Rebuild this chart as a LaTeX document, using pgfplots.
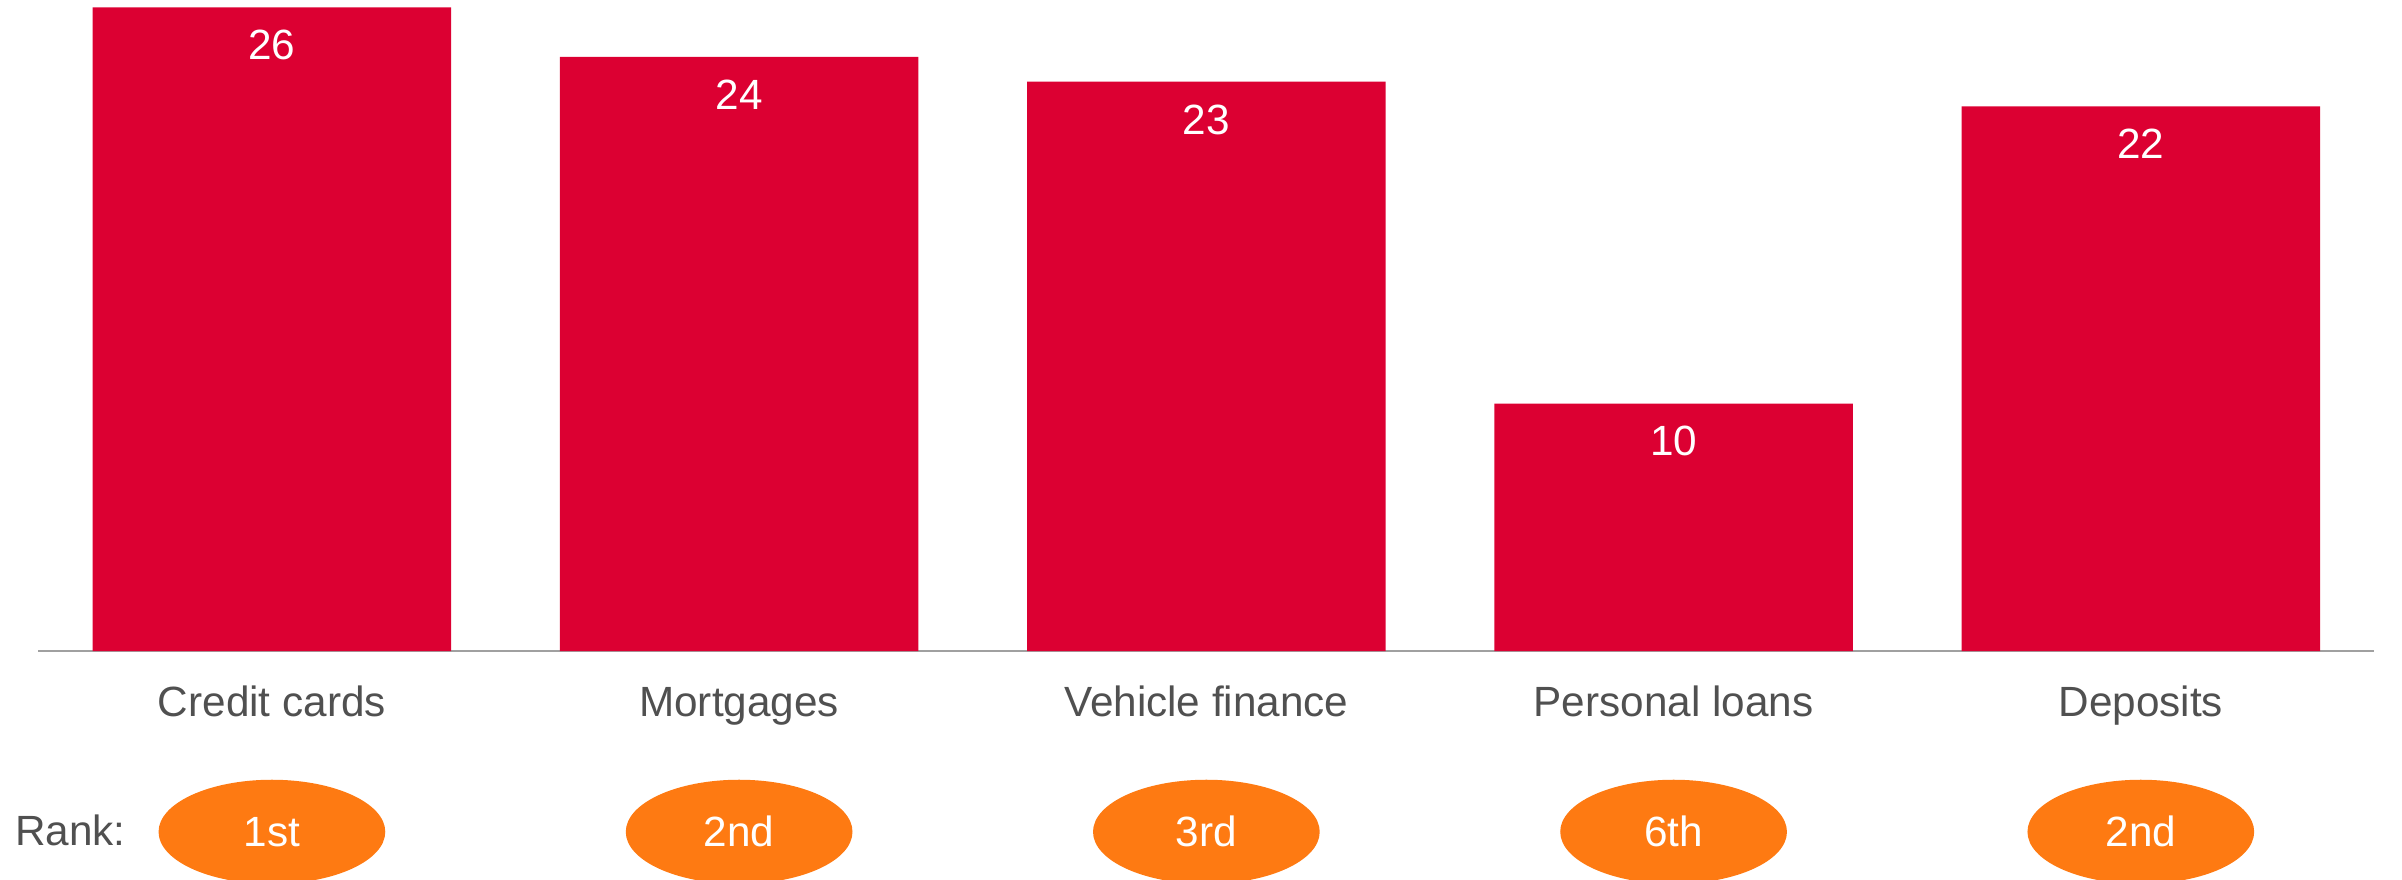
\documentclass[border=0pt]{standalone}
\usepackage{fontspec}
\setmainfont{Liberation Sans}
\usepackage{pgfplots}
\pgfplotsset{compat=1.18}
\usetikzlibrary{shapes.geometric}
\definecolor{barred}{RGB}{220,0,50}
\definecolor{rankorange}{RGB}{254,122,18}
\definecolor{textgray}{RGB}{80,80,80}
\definecolor{axisgray}{RGB}{160,160,160}
\newcommand{\lblfont}{\fontsize{13.8}{16}\selectfont}
\begin{document}
\begin{tikzpicture}
\begin{axis}[
  width=762.5pt, height=212.5pt, scale only axis,
  xmin=-0.5, xmax=4.5, ymin=0, ymax=26.3,
  axis x line=bottom, axis y line=none,
  x axis line style={-, draw=axisgray, line width=0.6pt},
  xtick={0,1,2,3,4},
  xticklabels={Credit cards, Mortgages, Vehicle finance, Personal loans, Deposits},
  major tick length=0pt,
  xticklabel style={anchor=base, yshift=-21.4pt, text=textgray, font=\lblfont},
  ytick=\empty,
  clip=false,
  /pgf/number format/assume math mode=true,
]
\addplot[ybar, fill=barred, draw=none, bar width=117pt,
  nodes near coords,
  nodes near coords align={center},
  every node near coord/.append style={anchor=base, yshift=-17.1pt, text=white, font=\lblfont, inner sep=0pt}]
  coordinates {(0,26) (1,24) (2,23) (3,10) (4,22)};
\node[anchor=base west, inner sep=0pt, text=textgray, font=\lblfont, xshift=-7.8pt, yshift=-63.6pt] at (rel axis cs:0,0) {Rank:};
\tikzset{rank/.style={ellipse, fill=rankorange, minimum width=74pt, minimum height=34pt, inner sep=0pt, text=white, font=\lblfont}}
\node[rank, yshift=-59pt] at (axis cs:0,0) {\raisebox{-1pt}{1st}};
\node[rank, yshift=-59pt] at (axis cs:1,0) {2nd};
\node[rank, yshift=-59pt] at (axis cs:2,0) {\raisebox{-1pt}{3rd}};
\node[rank, yshift=-59pt] at (axis cs:3,0) {6th};
\node[rank, yshift=-59pt] at (axis cs:4,0) {2nd};
\end{axis}
\pgfresetboundingbox
\useasboundingbox (-12.5pt,-74.5pt) rectangle (771.5pt,212.5pt);
\end{tikzpicture}
\end{document}
